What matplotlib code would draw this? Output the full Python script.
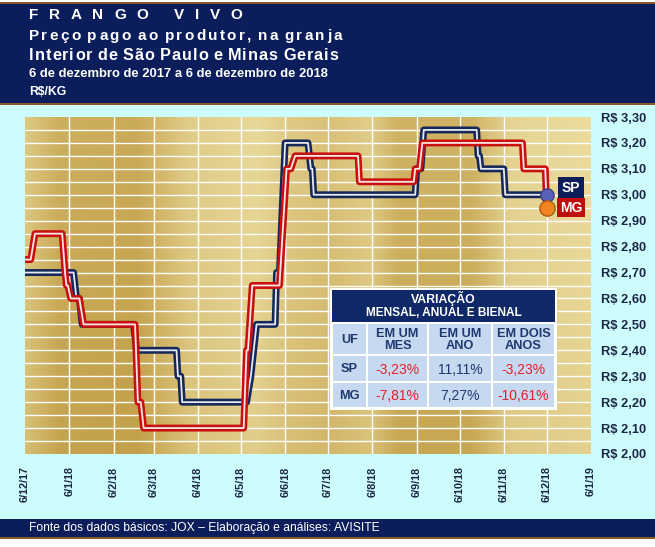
import numpy as np
import pandas as pd
import matplotlib
matplotlib.use("Agg")
import matplotlib.pyplot as plt
import matplotlib.dates as mdates
from matplotlib.patches import Rectangle

# precos (R$/kg)
sp_datas = ['2017-12-06', '2018-01-09', '2018-01-11', '2018-01-13', '2018-01-15',
            '2018-02-20', '2018-02-22', '2018-03-22', '2018-03-23', '2018-03-25',
            '2018-03-26', '2018-05-10', '2018-05-13', '2018-05-15', '2018-05-17',
            '2018-05-30', '2018-05-31', '2018-06-02', '2018-06-06', '2018-06-22',
            '2018-06-24', '2018-06-25', '2018-06-26', '2018-09-05', '2018-09-06',
            '2018-09-09', '2018-09-11', '2018-10-18', '2018-10-19', '2018-10-20',
            '2018-10-21', '2018-11-06', '2018-11-07', '2018-12-06']
sp_precos = [2.70, 2.70, 2.60, 2.60, 2.50,
             2.50, 2.40, 2.40, 2.30, 2.30,
             2.20, 2.20, 2.30, 2.40, 2.50,
             2.50, 2.70, 2.70, 3.20, 3.20,
             3.10, 3.10, 3.00, 3.00, 3.10,
             3.10, 3.25, 3.25, 3.15, 3.15,
             3.10, 3.10, 3.00, 3.00]

mg_datas = ['2017-12-06', '2017-12-10', '2017-12-13', '2018-01-01', '2018-01-03',
            '2018-01-04', '2018-01-05', '2018-01-07', '2018-01-13', '2018-01-16',
            '2018-02-21', '2018-02-23', '2018-02-25', '2018-02-27', '2018-05-08',
            '2018-05-10', '2018-05-11', '2018-05-14', '2018-06-02', '2018-06-07',
            '2018-06-10', '2018-06-13', '2018-07-27', '2018-07-28', '2018-09-04',
            '2018-09-05', '2018-09-08', '2018-09-10', '2018-11-19', '2018-11-20',
            '2018-12-05', '2018-12-06']
mg_precos = [2.75, 2.75, 2.85, 2.85, 2.70,
             2.65, 2.65, 2.60, 2.60, 2.50,
             2.50, 2.20, 2.20, 2.10, 2.10,
             2.40, 2.40, 2.65, 2.65, 3.10,
             3.10, 3.15, 3.15, 3.05, 3.05,
             3.10, 3.10, 3.20, 3.20, 3.10,
             3.10, 2.95]

x_ticks = ['2017-12-06', '2018-01-06', '2018-02-06', '2018-03-06', '2018-04-06',
           '2018-05-06', '2018-06-06', '2018-07-06', '2018-08-06', '2018-09-06',
           '2018-10-06', '2018-11-06', '2018-12-06', '2019-01-06']
x_labels = ['6/12/17', '6/1/18', '6/2/18', '6/3/18', '6/4/18', '6/5/18', '6/6/18',
            '6/7/18', '6/8/18', '6/9/18', '6/10/18', '6/11/18', '6/12/18', '6/1/19']
y_ticks = [2.0, 2.1, 2.2, 2.3, 2.4, 2.5, 2.6, 2.7, 2.8, 2.9, 3.0, 3.1, 3.2, 3.3]

tab_colunas = ['UF', 'EM UM\nMES', 'EM UM\nANO', 'EM DOIS\nANOS']
tab_ufs = ['SP', 'MG']
tab_sp = ['-3,23%', '11,11%', '-3,23%']
tab_mg = ['-7,81%', '7,27%', '-10,61%']

NARROW = ['Liberation Sans Narrow', 'Liberation Sans', 'DejaVu Sans']
ARIAL = ['Liberation Sans', 'DejaVu Sans']
NAVY = '#0b1e5b'
LINE_NAVY = '#14285a'
LINE_RED = '#c8100f'
TXT = '#1c2746'

fig = plt.figure(figsize=(6.55, 5.47), dpi=100, facecolor='#ccfcfc')

# ---- area do grafico
ax = fig.add_axes([25 / 655, 1 - 454 / 547, 566 / 655, 337 / 547])
x0 = mdates.date2num(pd.Timestamp(x_ticks[0]))
x1 = mdates.date2num(pd.Timestamp(x_ticks[-1]))

# fundo dourado
pos = [0, 0.06, 0.2, 0.29, 0.41, 0.47, 0.54, 0.61, 0.66, 0.79, 0.86, 1.0]
bri = [0.55, 0.2, 0.15, 0.6, 0.75, 0.55, 0.45, 0.6, 0.25, 0.25, 0.7, 0.8]
prof = np.interp(np.linspace(0, 1, 600), pos, bri)
vert = np.linspace(-0.05, 0.1, 200)[:, None]
b = np.clip(prof[None, :] + vert, 0, 1)
dark = np.array([190, 152, 62]) / 255
light = np.array([240, 228, 170]) / 255
tex = dark[None, None, :] + b[:, :, None] * (light - dark)[None, None, :]
ax.imshow(tex, extent=[x0, x1, 2.0, 3.3], aspect='auto', origin='lower', zorder=0)

ax.set_xlim(x0, x1)
ax.set_ylim(2.0, 3.3)
for yv in np.arange(2.05, 3.3, 0.05):
    ax.axhline(yv, color='white', lw=1, zorder=1)
for t in x_ticks[1:-1]:
    ax.axvline(pd.Timestamp(t), color='white', lw=1, zorder=1)

for datas, precos, cor in [(sp_datas, sp_precos, LINE_NAVY), (mg_datas, mg_precos, LINE_RED)]:
    d = pd.to_datetime(datas)
    ax.plot(d, precos, color=cor, lw=5, solid_joinstyle='round',
            solid_capstyle='round', zorder=3)
    ax.plot(d, precos, color='white', lw=1.3, alpha=0.9, solid_joinstyle='round', zorder=3)

ax.plot(pd.Timestamp(sp_datas[-1]), sp_precos[-1], 'o', ms=9.5, mfc='#5a60b8',
        mec='#3b3f8c', mew=1, zorder=4)
ax.plot(pd.Timestamp(mg_datas[-1]), mg_precos[-1], 'o', ms=11, mfc='#f28322',
        mec='#b5560f', mew=1, zorder=5)
ax.annotate('SP', xy=(pd.Timestamp(sp_datas[-1]), sp_precos[-1]), xytext=(17.5, 5),
            textcoords='offset points', ha='center', va='center', color='white',
            fontsize=10, fontweight='bold', family=ARIAL,
            bbox=dict(boxstyle='square,pad=0.3', fc=NAVY, ec='none'), zorder=6)
ax.annotate('MG', xy=(pd.Timestamp(mg_datas[-1]), mg_precos[-1]), xytext=(17.5, 0),
            textcoords='offset points', ha='center', va='center', color='white',
            fontsize=10, fontweight='bold', family=ARIAL,
            bbox=dict(boxstyle='square,pad=0.18', fc='#c00d0d', ec='none'), zorder=6)

ax.set_xticks(pd.to_datetime(x_ticks))
ax.set_xticklabels(x_labels, rotation=90, fontsize=7.8, fontweight='bold',
                   color=TXT, family=NARROW)
ax.set_yticks(y_ticks)
ax.set_yticklabels(['R$ ' + f'{v:.2f}'.replace('.', ',') for v in y_ticks],
                   fontsize=9.3, fontweight='bold', color=TXT, family=NARROW)
ax.yaxis.tick_right()
ax.tick_params(axis='both', length=0)
ax.tick_params(axis='x', pad=9)
ax.tick_params(axis='y', pad=7)
for s in ax.spines.values():
    s.set_visible(False)

# ---- camada em pixels para cabecalho, rodape e tabela
ov = fig.add_axes([0, 0, 1, 1], zorder=5)
ov.set_xlim(0, 655)
ov.set_ylim(547, 0)
ov.axis('off')
ov.patch.set_alpha(0)
renderer = fig.canvas.get_renderer()


def spaced(x, y, s, spacing, space_w, **kw):
    # texto com espacamento entre letras
    for ch in s:
        if ch == ' ':
            x += space_w
            continue
        t = ov.text(x, y, ch, va='center', **kw)
        x += t.get_window_extent(renderer=renderer).width + spacing


ov.add_patch(Rectangle((0, 0), 655, 5, fc='white', ec='none'))
ov.add_patch(Rectangle((0, 1.5), 655, 2, fc='#8a5a2a', ec='none'))
ov.add_patch(Rectangle((0, 4), 655, 99, fc=NAVY, ec='none'))
ov.add_patch(Rectangle((0, 103), 655, 2, fc='#8a5a2a', ec='none'))

hdr = dict(color='white', fontweight='bold', family=ARIAL)
spaced(29, 15, 'FRANGO VIVO', 10.7, 15, fontsize=11, **hdr)
spaced(29, 36, 'Preço pago ao produtor, na granja', 2.3, 4.5, fontsize=11, **hdr)
spaced(29, 55, 'Interior de São Paulo e Minas Gerais', 1.0, 4.3, fontsize=11.7, **hdr)
ov.text(29, 74, '6 de dezembro de 2017 a 6 de dezembro de 2018', color='white',
        fontsize=9.4, fontweight='bold', family=NARROW, va='center')
ov.text(29, 92, 'R$/KG', color='white', fontsize=8.8, fontweight='bold',
        family=NARROW, va='center')

ov.add_patch(Rectangle((0, 519), 655, 18, fc=NAVY, ec='none'))
ov.add_patch(Rectangle((0, 537), 655, 2, fc='#8a5a2a', ec='none'))
ov.add_patch(Rectangle((0, 539), 655, 8, fc='white', ec='none'))
ov.text(29, 528, 'Fonte dos dados básicos: JOX – Elaboração e análises: AVISITE',
        color='white', fontsize=8.7, family=NARROW, va='center')

# tabela de variacao
cx = [332, 367, 428, 492, 555]
ry = [290, 323, 355, 382, 408]
ov.add_patch(Rectangle((cx[0] - 2, ry[0] - 2), cx[-1] - cx[0] + 4, ry[-1] - ry[0] + 4,
                       fc='white', ec='none'))
ov.add_patch(Rectangle((cx[0], ry[0]), cx[-1] - cx[0], ry[1] - ry[0] - 1,
                       fc='#0e2868', ec='none'))
ov.text((cx[0] + cx[-1]) / 2, ry[0] + 8, 'VARIAÇÃO', color='white', fontsize=8.8,
        fontweight='bold', family=NARROW, ha='center', va='center')
ov.text((cx[0] + cx[-1]) / 2, ry[0] + 23, 'MENSAL, ANUAL E BIENAL', color='white',
        fontsize=8.6, fontweight='bold', family=NARROW, ha='center', va='center')

linhas = [tab_colunas, [tab_ufs[0]] + tab_sp, [tab_ufs[1]] + tab_mg]
for i, linha in enumerate(linhas):
    for j, val in enumerate(linha):
        ya, yb = ry[i + 1], ry[i + 2]
        xa, xb = cx[j], cx[j + 1]
        ov.add_patch(Rectangle((xa + 1, ya + 1), xb - xa - 2, yb - ya - 2,
                               fc='#c6d9f0', ec='none'))
        if i == 0 or j == 0:
            ov.text((xa + xb) / 2, (ya + yb) / 2 + 1, val, color='#1f3870',
                    fontsize=9.2, fontweight='bold', family=NARROW, ha='center',
                    va='center', linespacing=0.95)
        else:
            cor = '#e3202a' if val.startswith('-') else '#1f3870'
            ov.text((xa + xb) / 2, (ya + yb) / 2 + 1, val, color=cor,
                    fontsize=10, family=ARIAL, ha='center', va='center')

fig.savefig('out.png', dpi=100, facecolor=fig.get_facecolor())
